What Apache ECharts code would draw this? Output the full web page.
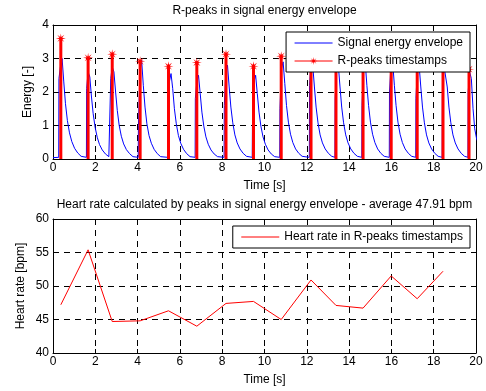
<!DOCTYPE html>
<html><head><meta charset="utf-8">
<script src="https://cdn.jsdelivr.net/npm/echarts@6/dist/echarts.min.js"></script>
<style>html,body{margin:0;padding:0;background:#fff}#c{width:486px;height:391px}</style>
</head><body><div id="c"></div>
<script>
// ---- data ----
const topTitle = 'R-peaks in signal energy envelope';
const bottomTitle = 'Heart rate calculated by peaks in signal energy envelope - average 47.91 bpm';
const xName = 'Time [s]';
const energyName = 'Energy [-]';
const hrName = 'Heart rate [bpm]';
const envelopeName = 'Signal energy envelope';
const peaksName = 'R-peaks timestamps';
const hrSeriesName = 'Heart rate in R-peaks timestamps';

const peakTimes  = [0.37, 1.66, 2.80, 4.12, 5.46, 6.80, 8.18, 9.48, 10.79, 12.20, 13.38, 14.66, 15.99, 17.22, 18.44, 19.67];
const peakValues = [3.60, 3.02, 3.13, 2.92, 2.77, 2.88, 3.13, 2.77, 3.07, 3.10, 3.00, 3.10, 3.10, 3.00, 3.00, 2.68];
const heartRate  = [47.2, 55.4, 44.7, 44.8, 46.3, 44.0, 47.4, 47.7, 45.0, 50.9, 47.1, 46.7, 51.5, 48.1, 52.2];

// envelope: start of the trace, onset of each beat, sample offsets after onset, values read per beat
const envStart   = [0, 0.04];
const envOnsets  = [0.27, 1.58, 2.72, 4.03, 5.42, 6.72, 8.09, 9.42, 10.72, 12.12, 13.33, 14.60, 15.90, 17.15, 18.40, 19.62];
const envOffsets = [0, 0.01, 0.08, 0.16, 0.24, 0.32, 0.41, 0.51, 0.62, 0.75, 0.90, 1.06];
const envValues = [
  [0.05, 2.40, 2.75, 3.00, 2.30, 1.65, 1.15, 0.78, 0.52, 0.32, 0.18, 0.08],
  [0.05, 2.10, 2.60, 2.45, 1.85, 1.35, 0.95, 0.65, 0.43, 0.27, 0.15, 0.07],
  [0.05, 2.40, 2.75, 2.60, 2.00, 1.45, 1.00, 0.68, 0.45, 0.28, 0.16, 0.07],
  [0.05, 1.00, 2.60, 2.95, 2.20, 1.55, 1.05, 0.70, 0.47, 0.29, 0.16, 0.07],
  [0.05, 0.75, 2.30, 2.55, 2.10, 1.50, 1.05, 0.70, 0.47, 0.29, 0.16, 0.07],
  [0.05, 1.80, 2.30, 2.50, 1.95, 1.40, 0.98, 0.66, 0.44, 0.27, 0.15, 0.07],
  [0.05, 1.60, 2.60, 2.80, 2.15, 1.55, 1.08, 0.72, 0.48, 0.30, 0.17, 0.08],
  [0.05, 1.00, 2.30, 2.50, 1.95, 1.40, 0.98, 0.66, 0.44, 0.27, 0.15, 0.07],
  [0.05, 1.50, 2.70, 2.90, 2.25, 1.60, 1.10, 0.74, 0.49, 0.30, 0.17, 0.08],
  [0.05, 2.20, 2.90, 2.80, 2.15, 1.55, 1.08, 0.72, 0.48, 0.30, 0.17, 0.08],
  [0.05, 1.80, 2.70, 2.80, 2.15, 1.55, 1.08, 0.72, 0.48, 0.30, 0.17, 0.08],
  [0.05, 1.60, 2.80, 2.90, 2.20, 1.60, 1.10, 0.74, 0.49, 0.30, 0.17, 0.08],
  [0.05, 2.00, 2.80, 2.90, 2.20, 1.60, 1.10, 0.74, 0.49, 0.30, 0.17, 0.08],
  [0.05, 1.80, 2.70, 2.80, 2.15, 1.55, 1.08, 0.72, 0.48, 0.30, 0.17, 0.08],
  [0.05, 1.90, 2.80, 2.80, 2.15, 1.55, 1.08, 0.72, 0.48, 0.30, 0.17, 0.08],
  [0.05, 2.00, 2.60, 2.40, 1.50, 0.90, 0.60, 0.45, 0.30, 0.20, 0.12, 0.07]
];

const xMin = 0, xMax = 20, xStep = 2;
const eMin = 0, eMax = 4, eStep = 1;
const hMin = 40, hMax = 60, hStep = 5;

// ---- build series data ----
const envData = [envStart];
envOnsets.forEach((t0, i) => envOffsets.forEach((dt, k) => envData.push([t0 + dt, envValues[i][k]])));
const stemData = [];
peakTimes.forEach((t, i) => { stemData.push([t, 0], [t, peakValues[i]], [t, '-']); });
const hrData = heartRate.map((v, i) => [peakTimes[i], v]);

const FONT = '"Liberation Sans", Arial, Helvetica, sans-serif';
const STAR = 'path://M20,10 L12.77,11.15 L17.07,17.07 L11.15,12.77 L10,20 L8.85,12.77 L2.93,17.07 L7.23,11.15 L0,10 L7.23,8.85 L2.93,2.93 L8.85,7.23 L10,0 L11.15,7.23 L17.07,2.93 L12.77,8.85 Z';

function xAx(grid, main) {
  return {
    gridIndex: grid, type: 'value', min: xMin, max: xMax, interval: xStep,
    position: main ? 'bottom' : 'top',
    name: main ? xName : '', nameLocation: 'middle', nameGap: 21, nameMoveOverlap: false,
    nameTextStyle: { color: '#000', fontSize: 12, fontFamily: FONT },
    axisLine: { show: true, onZero: false, lineStyle: { color: '#000', width: 1 } },
    axisTick: { show: true, inside: true, length: 4, lineStyle: { color: '#000' } },
    axisLabel: { show: main, color: '#000', fontSize: 12, margin: 3, fontFamily: FONT, hideOverlap: false },
    splitLine: { show: main, lineStyle: { color: '#000', width: 1, type: [6, 5] } }
  };
}
function yAx(grid, main, mn, mx, st, nm, gap) {
  return {
    gridIndex: grid, type: 'value', min: mn, max: mx, interval: st,
    position: main ? 'left' : 'right',
    name: main ? nm : '', nameLocation: 'middle', nameGap: gap, nameMoveOverlap: false,
    nameTextStyle: { color: '#000', fontSize: 12, fontFamily: FONT },
    axisLine: { show: true, onZero: false, lineStyle: { color: '#000', width: 1 } },
    axisTick: { show: true, inside: true, length: 4, lineStyle: { color: '#000' } },
    axisLabel: { show: main, color: '#000', fontSize: 12, margin: 4, fontFamily: FONT, hideOverlap: false },
    splitLine: { show: main, lineStyle: { color: '#000', width: 1, type: [6, 5] } }
  };
}

const legendCommon = {
  orient: 'vertical', right: 16, itemWidth: 38, itemHeight: 10, itemGap: 6,
  padding: [5, 7, 5, 8], backgroundColor: '#fff', borderColor: '#000', borderWidth: 1, borderRadius: 0,
  textStyle: { color: '#000', fontSize: 12, fontFamily: FONT }, selectedMode: false,
  lineStyle: { width: 1 }
};
const noSym = { opacity: 0 };

const chart = echarts.init(document.getElementById('c'), null, { renderer: 'canvas' });
chart.setOption({
  animation: false,
  backgroundColor: '#fff',
  textStyle: { fontFamily: FONT },
  grid: [
    { left: 53, top: 25, width: 423, height: 134, containLabel: false, outerBoundsMode: 'none' },
    { left: 53, top: 219, width: 423, height: 134, containLabel: false, outerBoundsMode: 'none' }
  ],
  xAxis: [xAx(0, true), xAx(0, false), xAx(1, true), xAx(1, false)],
  yAxis: [
    yAx(0, true, eMin, eMax, eStep, energyName, 19), yAx(0, false, eMin, eMax, eStep, '', 0),
    yAx(1, true, hMin, hMax, hStep, hrName, 26), yAx(1, false, hMin, hMax, hStep, '', 0)
  ],
  legend: [
    Object.assign({}, legendCommon, { top: 32, data: [
      { name: envelopeName, itemStyle: noSym, lineStyle: { width: 1 } },
      { name: peaksName, lineStyle: { width: 1 } }
    ] }),
    Object.assign({}, legendCommon, { top: 226, data: [{ name: hrSeriesName, itemStyle: noSym, lineStyle: { width: 1 } }] })
  ],
  graphic: [
    { type: 'text', x: 264.5, y: 11, style: { text: topTitle, textAlign: 'center', textVerticalAlign: 'middle', font: '12px ' + FONT, fill: '#000' } },
    { type: 'text', x: 264.5, y: 205, style: { text: bottomTitle, textAlign: 'center', textVerticalAlign: 'middle', font: '12px ' + FONT, fill: '#000' } }
  ],
  series: [
    { name: envelopeName, type: 'line', xAxisIndex: 0, yAxisIndex: 0, data: envData, symbol: 'none',
      lineStyle: { color: '#0000ff', width: 1 }, itemStyle: { color: '#0000ff' }, clip: true },
    { name: peaksName, type: 'line', xAxisIndex: 0, yAxisIndex: 0, data: stemData, connectNulls: false,
      symbol: STAR, symbolSize: (v) => (v[1] > 0 ? 10 : 0), showAllSymbol: true,
      lineStyle: { color: '#ff0000', width: 3 }, itemStyle: { color: '#ff0000' }, clip: true },
    { name: hrSeriesName, type: 'line', xAxisIndex: 2, yAxisIndex: 2, data: hrData, symbol: 'none',
      lineStyle: { color: '#ff0000', width: 1 }, itemStyle: { color: '#ff0000' }, clip: true }
  ]
});
</script>
</body></html>
